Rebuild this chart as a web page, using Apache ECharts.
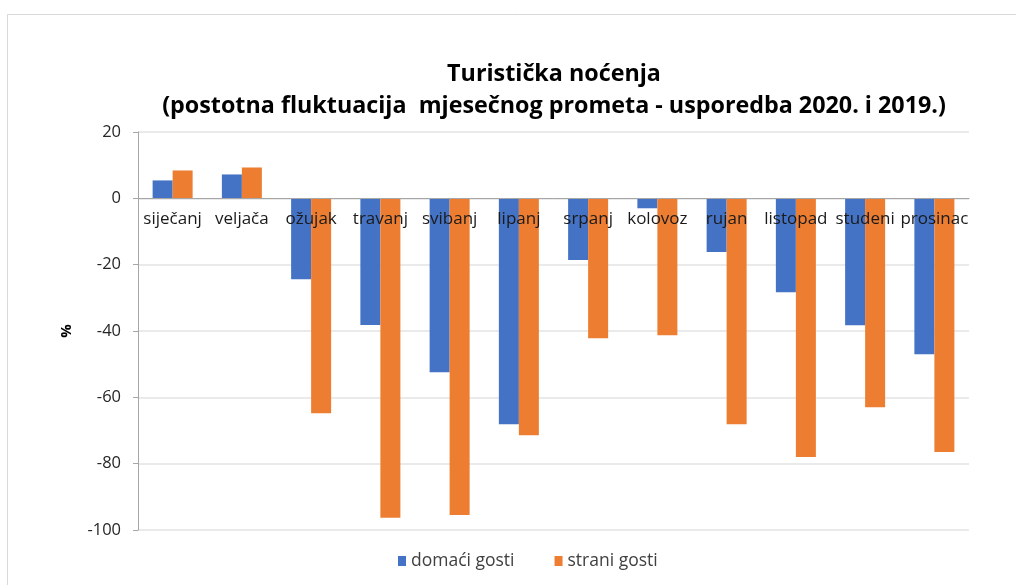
<!DOCTYPE html>
<html>
<head>
<meta charset="utf-8">
<script src="https://cdn.jsdelivr.net/npm/echarts@6/dist/echarts.min.js"></script>
<style>
html,body{margin:0;padding:0;background:#fff;}
#chart{width:1016px;height:585px;}
</style>
</head>
<body>
<div id="chart"></div>
<script>
const categories = ['siječanj','veljača','ožujak','travanj','svibanj','lipanj','srpanj','kolovoz','rujan','listopad','studeni','prosinac'];
const domaciGosti = [5.4, 7.2, -24.4, -38.2, -52.4, -68.1, -18.6, -3.0, -16.2, -28.3, -38.3, -47.0];
const straniGosti = [8.4, 9.3, -64.8, -96.3, -95.5, -71.4, -42.2, -41.3, -68.1, -78.0, -63.0, -76.5];
const yTicks = [20, 0, -20, -40, -60, -80, -100];
const titleLines = ['Turistička noćenja', '(postotna fluktuacija  mjesečnog prometa - usporedba 2020. i 2019.)'];
const seriesNames = ['domaći gosti', 'strani gosti'];

const font = '"Open Sans", sans-serif';
const chart = echarts.init(document.getElementById('chart'));
chart.setOption({
  animation: false,
  backgroundColor: '#fff',
  graphic: [{
    type: 'rect', left: 5, top: 12, shape: {width: 1200, height: 800},
    style: {fill: 'none', stroke: '#d9d9d9', lineWidth: 1}, silent: true, z: -1
  }],
  title: {
    text: titleLines.join('\n'),
    left: 549, textAlign: 'center', top: 53,
    textStyle: {fontFamily: font, fontWeight: 'bold', fontSize: 23.3, color: '#000', lineHeight: 32}
  },
  legend: {
    data: seriesNames,
    left: 393, top: 547, itemWidth: 8, itemHeight: 10, itemGap: 40,
    textStyle: {fontFamily: font, fontSize: 17.5, color: '#404040'},
    icon: 'rect'
  },
  grid: {left: 138, right: 47, top: 132, bottom: 55},
  xAxis: {
    type: 'category', data: categories, z: 10,
    position: 'bottom', offset: -332,
    axisLine: {onZero: false, lineStyle: {color: '#a6a6a6'}},
    axisTick: {show: false},
    axisLabel: {margin: 13, fontFamily: font, fontSize: 17, color: '#1a1a1a', interval: 0}
  },
  yAxis: {
    type: 'value', min: -100, max: 20, interval: 20,
    name: '%', nameLocation: 'middle', nameGap: 64, nameRotate: 90,
    nameTextStyle: {fontFamily: font, fontWeight: 'bold', fontSize: 15, color: '#000'},
    axisLine: {show: true, lineStyle: {color: '#a6a6a6'}},
    axisTick: {show: true, inside: false, length: 5, lineStyle: {color: '#a6a6a6'}},
    axisLabel: {margin: 17, fontFamily: font, fontSize: 16.5, color: '#262626'},
    splitLine: {lineStyle: {color: '#e3e3e3', width: 1.5}}
  },
  series: [
    {name: seriesNames[0], type: 'bar', data: domaciGosti, barWidth: 20, barGap: '0%', itemStyle: {color: '#4472c4'}},
    {name: seriesNames[1], type: 'bar', data: straniGosti, barWidth: 20, barGap: '0%', itemStyle: {color: '#ed7d31'}}
  ]
});
</script>
</body>
</html>
